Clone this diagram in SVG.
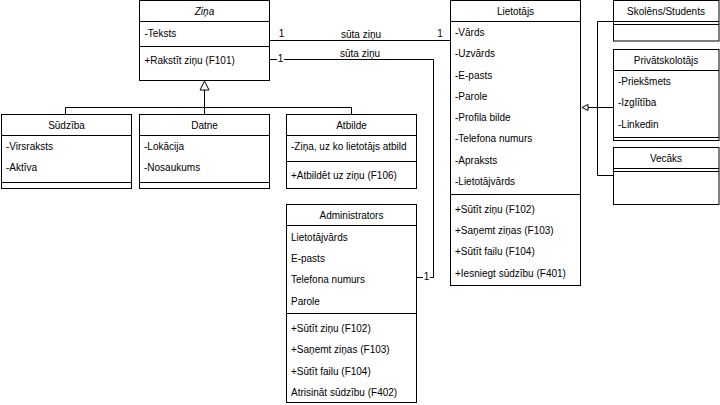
<svg xmlns="http://www.w3.org/2000/svg" width="720" height="405" viewBox="0 0 720 405">
<style>
.box{fill:#fff;stroke:#000;stroke-width:1}
.ln{fill:none;stroke:#000;stroke-width:1}
text{font-family:"Liberation Sans",Arial,sans-serif;font-size:10px;fill:#000}
.c{text-anchor:middle}
.lbl{fill:#fff}
</style>
<rect width="720" height="405" fill="#fff"/>
<g id="connectors">
  <!-- generalization to Ziņa -->
  <path class="ln" d="M204.5 90 V107.5 M65.5 114 V107.5 H351.5 V114 M204.5 107.5 V114"/>
  <polygon points="204.5,81 200,90 209,90" fill="#fff" stroke="#000"/>
  <!-- generalization to Lietotājs -->
  <path class="ln" d="M588 107.5 H613 M597.5 21.5 V175.5 M597.5 21.5 H613 M597.5 175.5 H613"/>
  <polygon points="582,107.5 588,104.5 588,110.5" fill="#fff" stroke="#000"/>
  <!-- association Ziņa - Lietotājs -->
  <path class="ln" d="M269.5 40.5 H450"/>
  <text x="281.5" y="37" class="c">1</text>
  <text x="440" y="37" class="c">1</text>
  <text x="361" y="38" class="c">sūta ziņu</text>
  <!-- association Ziņa - Administrators -->
  <path class="ln" d="M269.5 59.5 H433.5 V277.5 H417"/>
  <rect x="277" y="54" width="7" height="10" class="lbl"/>
  <text x="280.5" y="62" class="c">1</text>
  <rect x="423" y="272" width="7" height="10" class="lbl"/>
  <text x="426.5" y="280" class="c">1</text>
  <text x="360" y="56.5" class="c">sūta ziņu</text>
</g>
<g id="zina">
  <rect class="box" x="139.5" y="0.5" width="130" height="80"/>
  <path class="ln" d="M139.5 21.5 H269.5 M139.5 46.5 H269.5"/>
  <text x="204.5" y="15" class="c" font-style="italic">Ziņa</text>
  <text x="144.5" y="37">-Teksts</text>
  <text x="144.5" y="63.5">+Rakstīt ziņu (F101)</text>
</g>
<g id="sudziba">
  <rect class="box" x="1.5" y="114.5" width="130" height="74"/>
  <path class="ln" d="M1.5 135.5 H131.5 M1.5 182.5 H131.5"/>
  <text x="66.5" y="129" class="c">Sūdzība</text>
  <text x="6" y="150">-Virsraksts</text>
  <text x="6" y="171">-Aktīva</text>
</g>
<g id="datne">
  <rect class="box" x="139.5" y="114.5" width="130" height="74"/>
  <path class="ln" d="M139.5 135.5 H269.5 M139.5 182.5 H269.5"/>
  <text x="204.5" y="129" class="c">Datne</text>
  <text x="144" y="150">-Lokācija</text>
  <text x="144" y="171">-Nosaukums</text>
</g>
<g id="atbilde">
  <rect class="box" x="286.5" y="114.5" width="130" height="74"/>
  <path class="ln" d="M286.5 135.5 H416.5 M286.5 161.5 H416.5"/>
  <text x="351.5" y="129" class="c">Atbilde</text>
  <text x="291" y="150">-Ziņa, uz ko lietotājs atbild</text>
  <text x="291" y="179">+Atbildēt uz ziņu (F106)</text>
</g>
<g id="administrators">
  <rect class="box" x="286.5" y="204.5" width="130" height="198"/>
  <path class="ln" d="M286.5 225.5 H416.5 M286.5 313.5 H416.5"/>
  <text x="351.5" y="218.5" class="c">Administrators</text>
  <text x="291" y="241">Lietotājvārds</text>
  <text x="291" y="262">E-pasts</text>
  <text x="291" y="283">Telefona numurs</text>
  <text x="291" y="304.5">Parole</text>
  <text x="291" y="331.5">+Sūtīt ziņu (F102)</text>
  <text x="291" y="353">+Saņemt ziņas (F103)</text>
  <text x="291" y="374.5">+Sūtīt failu (F104)</text>
  <text x="291" y="395.5">Atrisināt sūdzību (F402)</text>
</g>
<g id="lietotajs">
  <rect class="box" x="450.5" y="0.5" width="130" height="285"/>
  <path class="ln" d="M450.5 21.5 H580.5 M450.5 194.5 H580.5"/>
  <text x="515.5" y="15" class="c">Lietotājs</text>
  <text x="455" y="36">-Vārds</text>
  <text x="455" y="57">-Uzvārds</text>
  <text x="455" y="78.5">-E-pasts</text>
  <text x="455" y="100">-Parole</text>
  <text x="455" y="121">-Profila bilde</text>
  <text x="455" y="142">-Telefona numurs</text>
  <text x="455" y="163.5">-Apraksts</text>
  <text x="455" y="185">-Lietotājvārds</text>
  <text x="455" y="212.5">+Sūtīt ziņu (F102)</text>
  <text x="455" y="234">+Saņemt ziņas (F103)</text>
  <text x="455" y="255">+Sūtīt failu (F104)</text>
  <text x="455" y="276.5">+Iesniegt sūdzību (F401)</text>
</g>
<g id="skolens">
  <rect class="box" x="613.5" y="0.5" width="105.5" height="40.5"/>
  <path class="ln" d="M613.5 21.5 H719 M613.5 24.5 H719"/>
  <text x="666" y="15" class="c">Skolēns/Students</text>
</g>
<g id="privatskolotajs">
  <rect class="box" x="613.5" y="49.5" width="105.5" height="91"/>
  <path class="ln" d="M613.5 70.5 H719 M613.5 137.5 H719"/>
  <text x="666" y="64" class="c">Privātskolotājs</text>
  <text x="618" y="85">-Priekšmets</text>
  <text x="618" y="106">-Izglītība</text>
  <text x="618" y="127.5">-Linkedin</text>
</g>
<g id="vecaks">
  <rect class="box" x="613.5" y="147.5" width="105.5" height="57"/>
  <path class="ln" d="M613.5 168.5 H719 M613.5 171.5 H719"/>
  <text x="666" y="162" class="c">Vecāks</text>
</g>
</svg>
